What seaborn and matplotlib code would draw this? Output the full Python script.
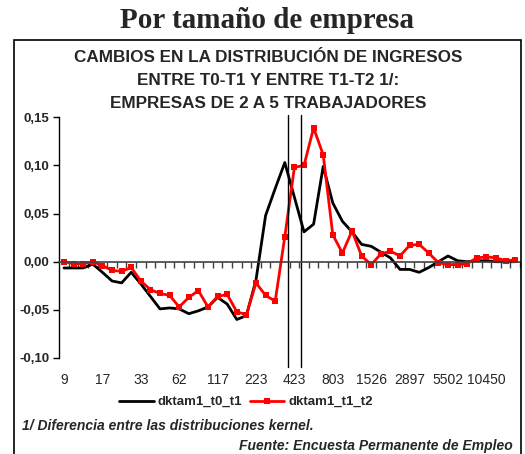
import numpy as np
import pandas as pd
import matplotlib
matplotlib.use("Agg")
import matplotlib.pyplot as plt
from matplotlib.patches import Rectangle
from matplotlib.lines import Line2D
import seaborn as sns

# tick labels shown on the category axis (every 4th category)
tick_labels = ["9", "17", "33", "62", "117", "223", "423", "803",
               "1526", "2897", "5502", "10450"]

dktam1_t0_t1 = [-0.0065, -0.0065, -0.0065, -0.0025, -0.011, -0.020, -0.022, -0.011,
                -0.023, -0.036, -0.049, -0.048, -0.049, -0.054, -0.051, -0.047,
                -0.037, -0.044, -0.060, -0.056, -0.019, 0.048, 0.076, 0.103,
                0.067, 0.031, 0.039, 0.099, 0.061, 0.042, 0.031, 0.018,
                0.016, 0.010, 0.004, -0.008, -0.008, -0.011, -0.006, 0.000,
                0.006, 0.001, 0.000, 0.001, 0.001, 0.000, 0.000, 0.000]

dktam1_t1_t2 = [0.000, -0.002, -0.002, 0.000, -0.004, -0.009, -0.010, -0.006,
                -0.020, -0.029, -0.033, -0.035, -0.047, -0.037, -0.030, -0.047,
                -0.036, -0.034, -0.052, -0.055, -0.022, -0.035, -0.041, 0.026,
                0.098, 0.100, 0.139, 0.111, 0.028, 0.009, 0.032, 0.006,
                -0.003, 0.008, 0.011, 0.006, 0.017, 0.018, 0.009, -0.001,
                -0.003, -0.003, -0.002, 0.004, 0.005, 0.004, 0.001, 0.002]

# reference lines drawn on the chart (category position)
ref_lines = [23.36, 24.66]

n = len(dktam1_t0_t1)
df = pd.DataFrame({"pos": np.arange(n), "t0": dktam1_t0_t1, "t1": dktam1_t1_t2})

sns.set_style("white")
plt.rcParams["font.family"] = ["Liberation Sans", "DejaVu Sans"]

fig = plt.figure(figsize=(5.25, 4.54), dpi=100)
ax = fig.add_axes([59.2 / 525, 1 - 358 / 454, (520 - 59.2) / 525, (358 - 117.3) / 454])

sns.lineplot(data=df, x="pos", y="t0", ax=ax, color="black", lw=2)
sns.lineplot(data=df, x="pos", y="t1", ax=ax, color="#ff0000", lw=2,
             marker="s", markersize=4, markeredgewidth=0)

for xv in ref_lines:
    ax.axvline(xv, ymin=-0.037, ymax=1.01, color="black", lw=1, clip_on=False)

ax.set_xlim(-0.5, n - 0.5)
ax.set_ylim(-0.10, 0.15)

yt = [-0.10, -0.05, 0.0, 0.05, 0.10, 0.15]
ax.set_yticks(yt)
ax.set_yticklabels([f"{v:.2f}".replace(".", ",") for v in yt],
                   fontsize=9.5, fontweight="bold")
ax.tick_params(axis="y", direction="out", length=4, width=1, color="black",
               pad=3, left=True)

ax.set_xticks(np.arange(0, n, 4))
ax.set_xticklabels(tick_labels, fontsize=9.5, fontweight="bold")
ax.set_xticks(np.arange(0.5, n, 1), minor=True)
ax.tick_params(axis="x", which="major", length=0, pad=80, bottom=True)
ax.tick_params(axis="x", which="minor", direction="out", length=4, width=1,
               color="#404040", bottom=True)

ax.spines["bottom"].set_position(("data", 0))
ax.spines["bottom"].set_color("#404040")
ax.spines["bottom"].set_linewidth(1.2)
ax.spines["left"].set_color("black")
ax.spines["left"].set_linewidth(1)
ax.spines["top"].set_visible(False)
ax.spines["right"].set_visible(False)
ax.set_xlabel("")
ax.set_ylabel("")

fig.text(266.5 / 525, 1 - 20 / 454, "Por tamaño de empresa",
         family="Liberation Serif", fontweight="bold", fontsize=21,
         ha="center", va="center")

titles = ["CAMBIOS EN LA DISTRIBUCIÓN DE INGRESOS",
          "ENTRE T0-T1 Y ENTRE T1-T2 1/:",
          "EMPRESAS DE 2 A 5 TRABAJADORES"]
for i, t in enumerate(titles):
    fig.text(268 / 525, 1 - (57 + 23.5 * i) / 454, t, fontsize=12.3,
             fontweight="bold", ha="center", va="center")

handles = [Line2D([], [], color="black", lw=2),
           Line2D([], [], color="#ff0000", lw=2, marker="s",
                  markersize=4, markeredgewidth=0)]
fig.legend(handles, ["dktam1_t0_t1", "dktam1_t1_t2"], loc="center",
           bbox_to_anchor=(246 / 525, 1 - 402 / 454), ncol=2, frameon=False,
           prop={"weight": "bold", "size": 9.5}, handlelength=2.6,
           handletextpad=0.3, columnspacing=0.6)

fig.text(22 / 525, 1 - 426 / 454, "1/ Diferencia entre las distribuciones kernel.",
         fontsize=10, fontweight="bold", style="italic", ha="left", va="center")
fig.text(513 / 525, 1 - 446 / 454, "Fuente: Encuesta Permanente de Empleo",
         fontsize=10, fontweight="bold", style="italic", ha="right", va="center")

fig.add_artist(Rectangle((14 / 525, -0.01), (521 - 14) / 525, (454 - 40) / 454 + 0.01,
                         transform=fig.transFigure, fill=False, lw=1.2,
                         edgecolor="black", clip_on=False))

fig.savefig("out.png", dpi=100)
